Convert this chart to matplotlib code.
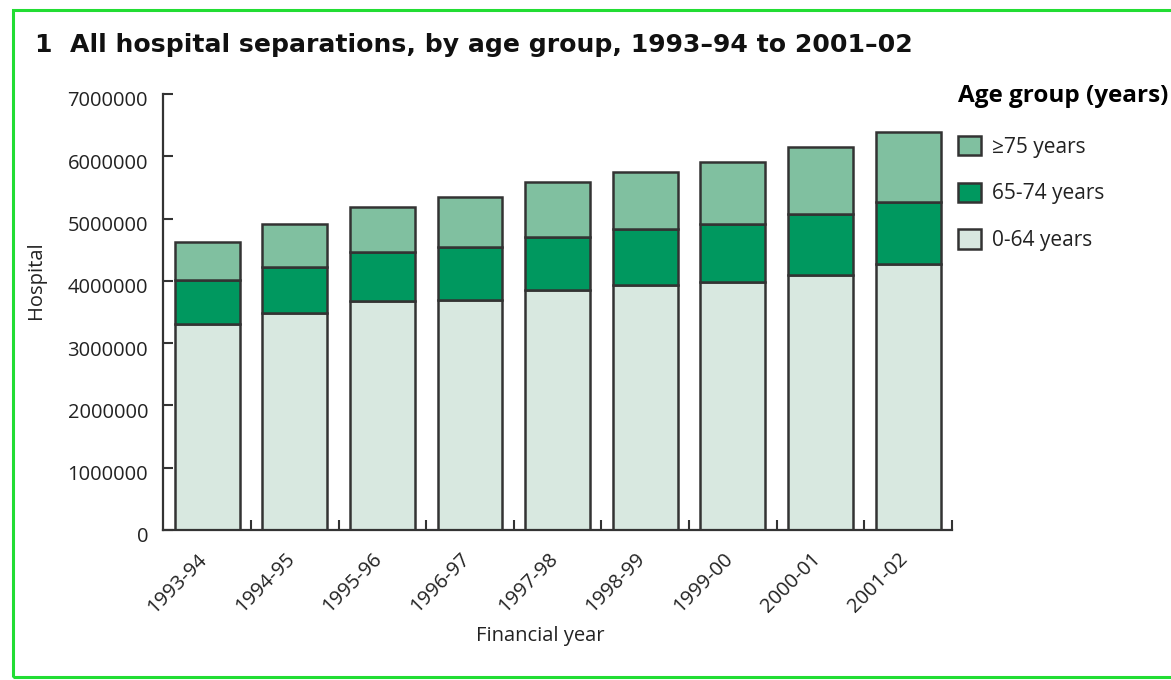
import matplotlib
matplotlib.use("Agg")
import matplotlib.pyplot as plt
from matplotlib.patches import Rectangle
from matplotlib.transforms import ScaledTranslation
import numpy as np

plt.rcParams['font.family'] = ['Open Sans', 'DejaVu Sans']

years = ["1993-94", "1994-95", "1995-96", "1996-97", "1997-98",
         "1998-99", "1999-00", "2000-01", "2001-02"]
age_0_64 = [3300000, 3490000, 3670000, 3690000, 3850000, 3930000, 3980000, 4090000, 4270000]
age_65_74 = [720000, 730000, 800000, 860000, 860000, 900000, 930000, 980000, 1000000]
age_75_plus = [600000, 690000, 720000, 800000, 880000, 920000, 1000000, 1080000, 1120000]
series_labels = ["0-64 years", "65-74 years", "\u226575 years"]
yticks = [0, 1000000, 2000000, 3000000, 4000000, 5000000, 6000000, 7000000]

W, H = 1171, 680
fig = plt.figure(figsize=(W / 100, H / 100), dpi=100)
ax = fig.add_axes([163.3 / W, 1 - 530 / H, (952 - 163.3) / W, (530 - 94) / H])

edge = "#333333"
cols = ["#D8E8E0", "#00985F", "#80C0A0"]
x = np.arange(len(years))
b1 = np.array(age_0_64)
b2 = b1 + np.array(age_65_74)
bars = []
for vals, bottom, c, lab in [(age_0_64, 0, cols[0], series_labels[0]),
                             (age_65_74, b1, cols[1], series_labels[1]),
                             (age_75_plus, b2, cols[2], series_labels[2])]:
    bars.append(ax.bar(x, vals, bottom=bottom, width=0.74, color=c,
                       edgecolor=edge, linewidth=1.8, label=lab, zorder=3))

ax.set_xlim(-0.5, len(years) - 0.5)
ax.set_ylim(0, 7000000)
ax.set_yticks(yticks)
ax.set_yticklabels([str(v) for v in yticks])
ax.set_xticks(x)
ax.set_xticklabels(years, rotation=45, ha="right", rotation_mode="anchor")
ax.set_xticks(np.arange(len(years)) + 0.5, minor=True)
ax.tick_params(axis="x", which="major", length=0, pad=14, labelsize=14.5, colors="#222222")
ax.tick_params(axis="x", which="minor", direction="in", length=7.5, width=1.5, color=edge)
ax.tick_params(axis="y", direction="in", length=7, width=1.5, color=edge,
               labelsize=14.5, pad=11, labelcolor="#222222")
for lbl in ax.get_xticklabels():
    lbl.set_transform(lbl.get_transform() + ScaledTranslation(-0.10, 0, fig.dpi_scale_trans))
for lbl in ax.get_yticklabels():
    lbl.set_transform(lbl.get_transform() + ScaledTranslation(0, -0.05, fig.dpi_scale_trans))
for s in ["top", "right"]:
    ax.spines[s].set_visible(False)
for s in ["left", "bottom"]:
    ax.spines[s].set_linewidth(1.6)
    ax.spines[s].set_color(edge)
    ax.spines[s].set_zorder(4)

fig.text(36 / W, 1 - 280 / H, "Hospital", rotation=90, ha="center", va="center",
         fontsize=14.5, color="#222222")
fig.text(540 / W, 1 - 636 / H, "Financial year", ha="center", va="center",
         fontsize=14.5, color="#222222")
fig.text(35 / W, 1 - 45 / H, "1  All hospital separations, by age group, 1993\u201394 to 2001\u201302",
         ha="left", va="center", fontsize=18.1, fontweight="bold", color="#111111",
         family=["DejaVu Sans"])

handles = [bars[2], bars[1], bars[0]]
leg = fig.legend(handles, [series_labels[2], series_labels[1], series_labels[0]],
                 loc="upper left", bbox_to_anchor=(954 / W, 1 - 80 / H),
                 frameon=False, fontsize=15, title="Age group (years)",
                 title_fontproperties={"weight": "bold", "size": 17.5},
                 handlelength=1.1, handleheight=1.05, handletextpad=0.5,
                 labelspacing=1.2, borderaxespad=0, borderpad=0.2)
leg._legend_box.align = "left"
leg._legend_box.sep = 20
for t in leg.get_texts():
    t.set_color("#222222")

fig.patches.append(Rectangle((13 / W, 1 - 677 / H), 1.2, (677 - 10) / H,
                             transform=fig.transFigure, fill=False,
                             edgecolor="#22DD33", linewidth=2.2))

fig.savefig("out.png", dpi=100)
